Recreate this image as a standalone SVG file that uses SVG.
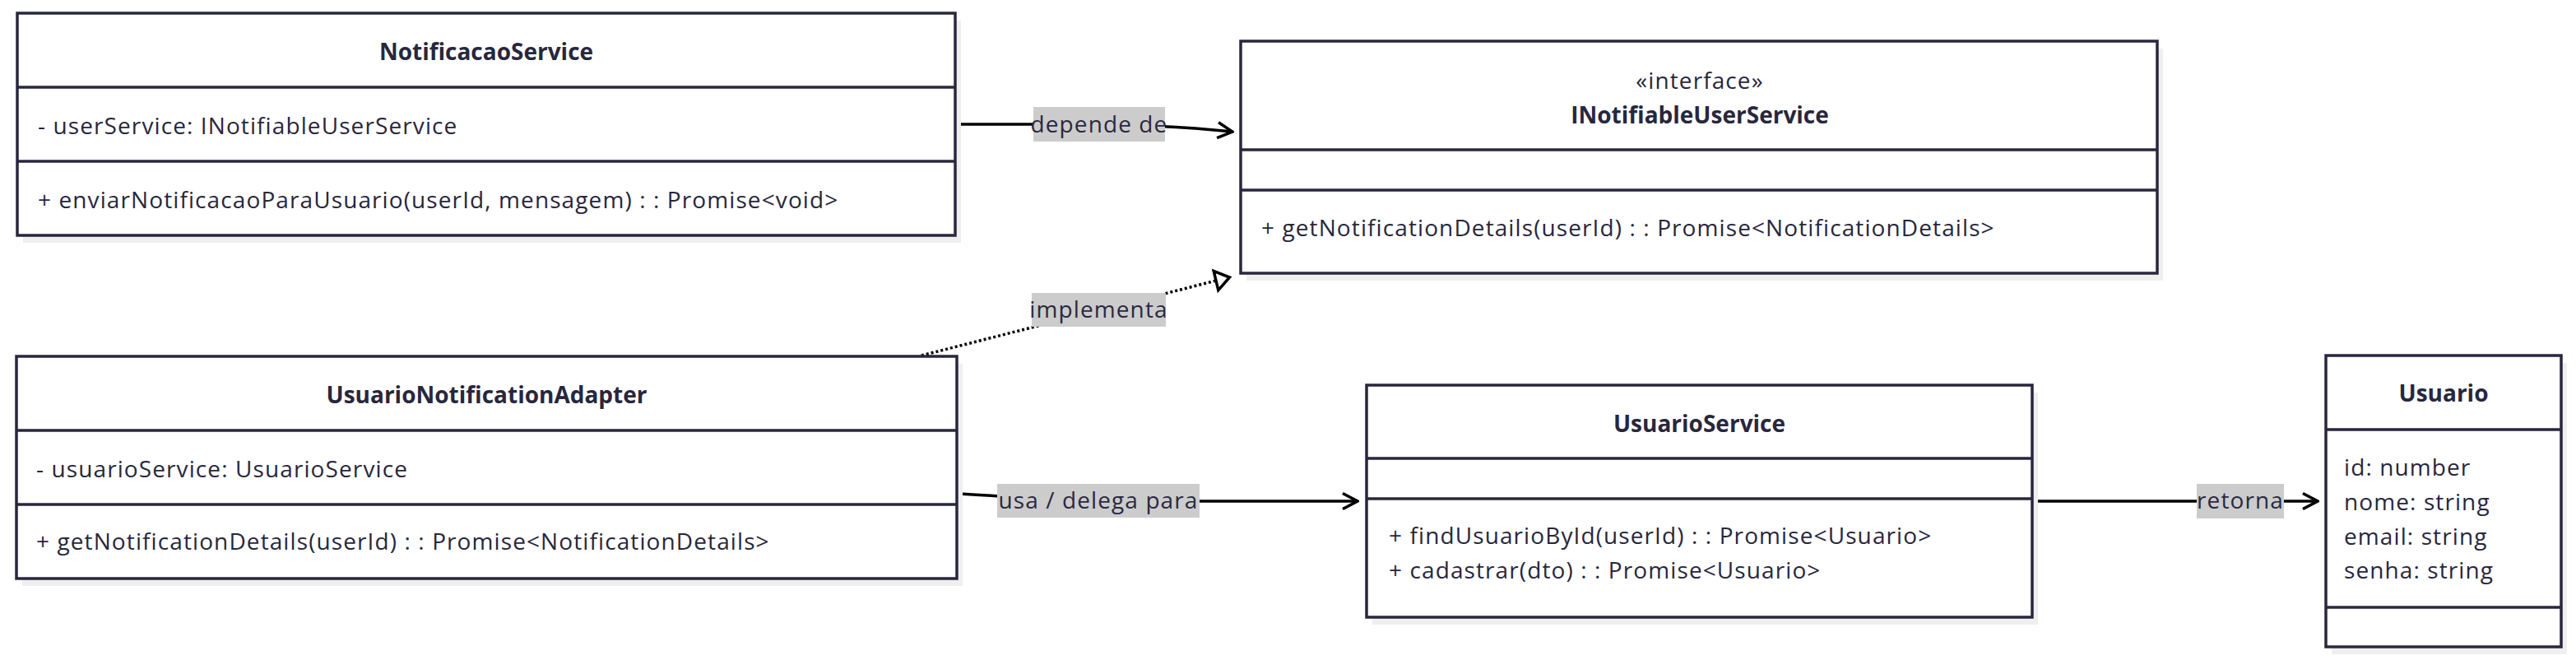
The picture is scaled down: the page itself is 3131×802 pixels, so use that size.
<svg xmlns="http://www.w3.org/2000/svg" width="3131" height="802" viewBox="0 0 3131 802">
<style>
.shadow{fill:#efefef;stroke:none}
.box{fill:#ffffff;stroke:#28273c;stroke-width:3.5}
.div{stroke:#28273c;stroke-width:3.5}
text{font-family:"Open Sans","Liberation Sans",sans-serif;fill:#28273c;font-size:28px;letter-spacing:1.1px}
.title{font-weight:bold;text-anchor:middle;letter-spacing:0}
.stereo{text-anchor:middle}
.edge{fill:none;stroke:#000000;stroke-width:3.5}
.dotted{stroke-dasharray:3 3}
.lblbg{fill:#cccccc}
.lbl{text-anchor:middle;fill:#2a2940}
</style>
<defs>
<marker id="dep" viewBox="0 0 22 22" refX="20" refY="11" markerWidth="22" markerHeight="22" markerUnits="userSpaceOnUse" orient="auto">
<path d="M2,1.5 L20,11 L2,20.5" fill="none" stroke="#000" stroke-width="3.5"/>
</marker>
</defs>
<g id="connectors">
<g id="e-depende">
<path class="edge" d="M1163,151 L1300,151 C1380,151 1440,154 1498,160" marker-end="url(#dep)"/>
<rect class="lblbg" x="1256" y="130" width="160" height="42"/>
<text class="lbl" x="1336" y="161">depende de</text>
</g>
<g id="e-implementa">
<path class="edge dotted" d="M1120,432 L1478,341"/>
<polygon points="1475.2,329.4 1494.5,337 1480.8,352.6" fill="#ffffff" stroke="#000" stroke-width="3.5" stroke-linejoin="miter"/>
<rect class="lblbg" x="1254" y="356" width="163" height="41"/>
<text class="lbl" x="1335.5" y="386">implementa</text>
</g>
<g id="e-usa">
<path class="edge" d="M1164,600 C1240,604 1300,609 1340,609 L1650,609" marker-end="url(#dep)"/>
<rect class="lblbg" x="1212" y="588" width="246" height="41"/>
<text class="lbl" x="1335" y="618">usa / delega para</text>
</g>
<g id="e-retorna">
<path class="edge" d="M2470,609 L2817,609" marker-end="url(#dep)"/>
<rect class="lblbg" x="2670" y="588" width="106" height="42"/>
<text class="lbl" x="2723" y="618">retorna</text>
</g>
</g>
<g id="NotificacaoService">
<rect class="shadow" x="28" y="25" width="1140" height="270"/>
<rect class="box" x="21" y="16" width="1140" height="270"/>
<line class="div" x1="21" y1="106" x2="1161" y2="106"/>
<line class="div" x1="21" y1="196" x2="1161" y2="196"/>
<text class="title" x="591" y="73">NotificacaoService</text>
<text x="46" y="163">- userService: INotifiableUserService</text>
<text x="46" y="253">+ enviarNotificacaoParaUsuario(userId, mensagem) : : Promise&lt;void&gt;</text>
</g>
<g id="INotifiableUserService">
<rect class="shadow" x="1515" y="59" width="1114" height="282"/>
<rect class="box" x="1508" y="50" width="1114" height="282"/>
<line class="div" x1="1508" y1="182" x2="2622" y2="182"/>
<line class="div" x1="1508" y1="231" x2="2622" y2="231"/>
<text class="stereo" x="2066" y="108">«interface»</text>
<text class="title" x="2066" y="150">INotifiableUserService</text>
<text x="1533" y="287">+ getNotificationDetails(userId) : : Promise&lt;NotificationDetails&gt;</text>
</g>
<g id="UsuarioNotificationAdapter">
<rect class="shadow" x="27" y="442" width="1143" height="270"/>
<rect class="box" x="20" y="433" width="1143" height="270"/>
<line class="div" x1="20" y1="523" x2="1163" y2="523"/>
<line class="div" x1="20" y1="613" x2="1163" y2="613"/>
<text class="title" x="591.5" y="490">UsuarioNotificationAdapter</text>
<text x="44" y="580">- usuarioService: UsuarioService</text>
<text x="44" y="668">+ getNotificationDetails(userId) : : Promise&lt;NotificationDetails&gt;</text>
</g>
<g id="UsuarioService">
<rect class="shadow" x="1668" y="477" width="809" height="282"/>
<rect class="box" x="1661" y="468" width="809" height="282"/>
<line class="div" x1="1661" y1="557" x2="2470" y2="557"/>
<line class="div" x1="1661" y1="606" x2="2470" y2="606"/>
<text class="title" x="2065.5" y="525">UsuarioService</text>
<text x="1688" y="661">+ findUsuarioById(userId) : : Promise&lt;Usuario&gt;</text>
<text x="1688" y="703">+ cadastrar(dto) : : Promise&lt;Usuario&gt;</text>
</g>
<g id="Usuario">
<rect class="shadow" x="2834" y="441" width="286" height="354"/>
<rect class="box" x="2827" y="432" width="286" height="354"/>
<line class="div" x1="2827" y1="522" x2="3113" y2="522"/>
<line class="div" x1="2827" y1="738" x2="3113" y2="738"/>
<text class="title" x="2970" y="488">Usuario</text>
<text x="2849" y="578">id: number</text>
<text x="2849" y="620">nome: string</text>
<text x="2849" y="662">email: string</text>
<text x="2849" y="703">senha: string</text>
</g>
</svg>
